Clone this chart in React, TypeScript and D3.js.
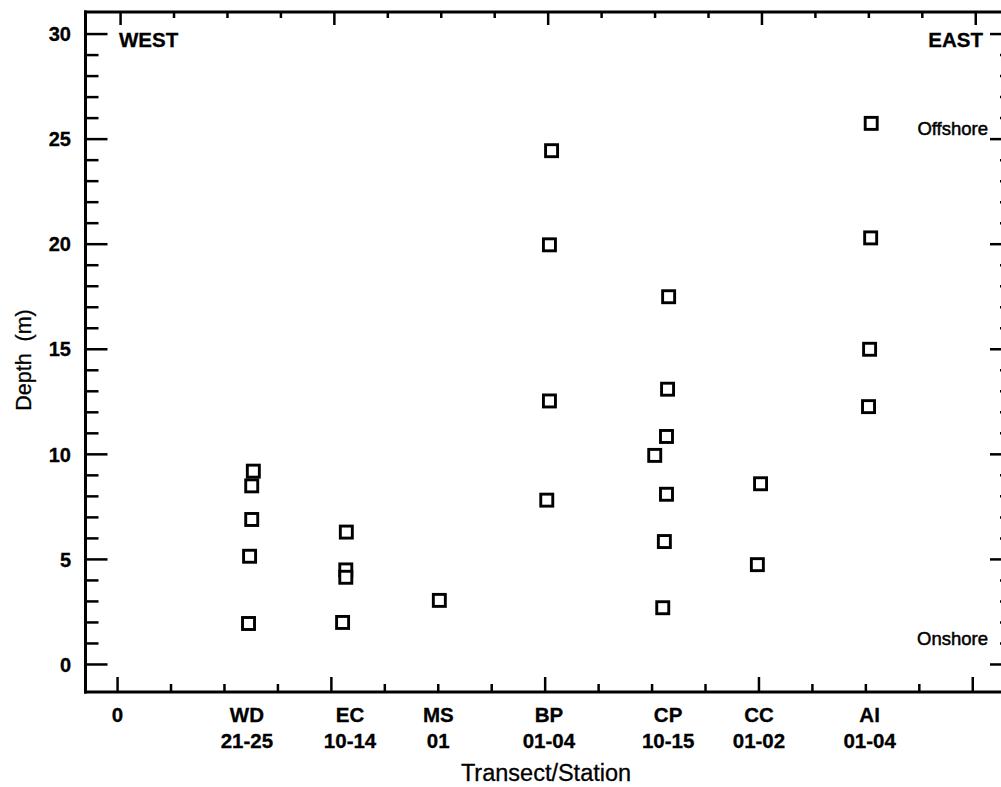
import React from "react";
import * as d3 from "d3";

// ---- data ----
const transects = ["0", "WD", "EC", "MS", "BP", "CP", "CC", "AI"];
const stations = ["", "21-25", "10-14", "01", "01-04", "10-15", "01-02", "01-04"];
const labelPositions = [0, 2.42, 4.35, 6.0, 8.07, 10.3, 12.0, 14.07];

// sample points: transect, along-coast position, depth (m)
const pointTransect = [
  "WD", "WD", "WD", "WD", "WD",
  "EC", "EC", "EC", "EC",
  "MS",
  "BP", "BP", "BP", "BP",
  "CP", "CP", "CP", "CP", "CP", "CP", "CP",
  "CC", "CC",
  "AI", "AI", "AI", "AI",
];
const pointPosition = [
  2.54, 2.51, 2.51, 2.47, 2.45,
  4.28, 4.27, 4.27, 4.21,
  6.02,
  8.12, 8.08, 8.08, 8.03,
  10.31, 10.29, 10.27, 10.05, 10.27, 10.23, 10.2,
  12.03, 11.97,
  14.1, 14.09, 14.07, 14.05,
];
const pointDepth = [
  9.2, 8.5, 6.9, 5.15, 1.95,
  6.3, 4.5, 4.15, 2.0,
  3.05,
  24.45, 19.97, 12.54, 7.82,
  17.5, 13.1, 10.85, 9.95, 8.1, 5.85, 2.7,
  8.6, 4.75,
  25.75, 20.3, 15.0, 12.27,
];

const yMajorTicks = [0, 5, 10, 15, 20, 25, 30];
const yMinorTicks = d3.range(0, 31);
const xMajorTicks = [0, 4, 8, 12, 16];
const xMinorTicks = d3.range(0, 17);

const W = 1001;
const H = 787;
const FONT = "'Liberation Sans', Arial, Helvetica, sans-serif";

export default function App() {
  const left = 85.5;
  const right = 1011;
  const top = 12;
  const bottom = 692;

  const x = d3.scaleLinear().domain([-0.6, 16.65]).range([left, 1007.5]);
  const y = d3.scaleLinear().domain([-1.31, 31.05]).range([bottom, top]);

  const sq = 12;

  return (
    <svg
      width={W}
      height={H}
      viewBox={`0 0 ${W} ${H}`}
      style={{ position: "absolute", left: 0, top: 0, background: "#fff" }}
    >
      <rect x={0} y={0} width={W} height={H} fill="#fff" />
      {/* frame */}
      <g stroke="#000" strokeWidth={3} fill="none" strokeLinecap="square">
        <line x1={left} y1={top} x2={left} y2={bottom} />
        <line x1={left} y1={bottom} x2={right + 5} y2={bottom} />
        <line x1={left} y1={top} x2={right + 5} y2={top} />
        <line x1={right + 2} y1={top} x2={right + 2} y2={bottom} />
      </g>

      {/* left & right y ticks */}
      <g stroke="#000" strokeWidth={2.5}>
        {yMinorTicks.map((t) => {
          const major = yMajorTicks.includes(t);
          const L = major ? 22 : 13;
          const R = major ? 21 : 11;
          return (
            <g key={"y" + t}>
              <line x1={left} x2={left + L} y1={y(t)} y2={y(t)} />
              <line x1={right} x2={right - R} y1={y(t)} y2={y(t)} />
            </g>
          );
        })}
      </g>

      {/* top & bottom x ticks */}
      <g stroke="#000" strokeWidth={2.5}>
        {xMinorTicks.map((t) => {
          const major = xMajorTicks.includes(t);
          return (
            <g key={"x" + t}>
              <line x1={x(t)} x2={x(t)} y1={bottom} y2={bottom - (major ? 15 : 8)} />
              <line x1={x(t) + 3} x2={x(t) + 3} y1={top} y2={top + (major ? 13 : 6)} />
            </g>
          );
        })}
      </g>

      {/* y tick labels */}
      <g fontFamily={FONT} fontWeight="bold" fontSize={20} textAnchor="end" stroke="#000" strokeWidth={0.3}>
        {yMajorTicks.map((t) => (
          <text key={"yl" + t} x={71} y={y(t)} dy="0.36em">
            {t}
          </text>
        ))}
      </g>

      {/* x tick labels */}
      <g fontFamily={FONT} fontWeight="bold" fontSize={20.5} textAnchor="middle" stroke="#000" strokeWidth={0.3}>
        {transects.map((c, i) => (
          <g key={"xl" + c}>
            <text x={x(labelPositions[i])} y={722}>
              {c}
            </text>
            {stations[i] && (
              <text x={x(labelPositions[i])} y={748}>
                {stations[i]}
              </text>
            )}
          </g>
        ))}
      </g>

      {/* corner annotations */}
      <g fontFamily={FONT} fontWeight="bold" fontSize={20.5} stroke="#000" strokeWidth={0.3}>
        <text x={119} y={47}>WEST</text>
        <text x={983} y={47} textAnchor="end">EAST</text>
      </g>
      <g fontFamily={FONT} fontSize={18.5} stroke="#000" strokeWidth={0.5} textAnchor="end">
        <text x={988} y={135}>Offshore</text>
        <text x={988} y={645}>Onshore</text>
      </g>

      {/* axis titles */}
      <text
        fontFamily={FONT}
        fontSize={23.5}
        textAnchor="middle"
        x={546}
        y={781}
        stroke="#000"
        strokeWidth={0.3}
      >
        Transect/Station
      </text>
      <text
        fontFamily={FONT}
        fontSize={21.5}
        textAnchor="middle"
        transform={`translate(31,360) rotate(-90)`}
        stroke="#000"
        strokeWidth={0.3}
        style={{ whiteSpace: "pre" }}
      >
        {"Depth  (m)"}
      </text>

      {/* data squares */}
      <g fill="#fff" stroke="#000" strokeWidth={2.9}>
        {pointDepth.map((d, i) => (
          <rect
            key={"p" + i}
            data-transect={pointTransect[i]}
            x={x(pointPosition[i]) - sq / 2}
            y={y(d) - sq / 2}
            width={sq}
            height={sq}
          />
        ))}
      </g>
    </svg>
  );
}
